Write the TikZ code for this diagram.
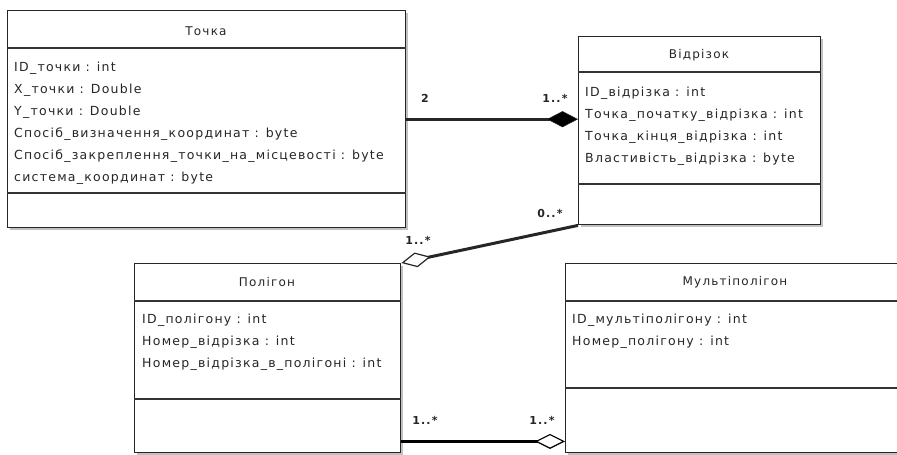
\documentclass[tikz,border=0pt]{standalone}
\usepackage{fontspec}
\setmainfont[LetterSpace=10]{DejaVu Sans}
\usetikzlibrary{arrows.meta,shadows,calc}

\begin{document}
\begin{tikzpicture}[x=1pt,y=-1pt,
  classbox/.style={draw=black!85, line width=1.4pt, fill=white, inner sep=0pt,
    anchor=north west,
    drop shadow={shadow xshift=2pt, shadow yshift=-2pt, fill=black!40, opacity=0.6}},
  sep/.style={draw=black!80, line width=1.4pt},
  classtitle/.style={font=\fontsize{12}{14}\selectfont, text=black!85, inner sep=0pt},
  attr/.style={font=\fontsize{12.5}{14}\selectfont, text=black!85, inner sep=0pt, anchor=base west},
  mult/.style={font=\bfseries\fontsize{11}{12}\selectfont, text=black!85, inner sep=0pt},
  assoc/.style={draw=black!85, line width=3pt},
  filledtip/.style={-{Diamond[length=31pt,width=16pt,fill=black,line width=0.5pt]}},
  opentip/.style={-{Diamond[length=30pt,width=15pt,fill=white,line width=1.2pt]}}
]
\clip (0,0) rectangle (897,455);
\fill[white] (0,0) rectangle (897,455);

% Class Точка
\node[classbox, minimum width=398pt, minimum height=217pt] (tochka) at (7,10) {};
\draw[sep] (tochka.west |- 0,48) -- (tochka.east |- 0,48);
\draw[sep] (tochka.west |- 0,193) -- (tochka.east |- 0,193);
\node[classtitle] (tochka-t) at (206,31) {Точка};
\node[attr] (tochka-a1) at (14,71) {ID\_точки : int};
\node[attr] (tochka-a2) at (14,93) {X\_точки : Double};
\node[attr] (tochka-a3) at (14,115) {Y\_точки : Double};
\node[attr] (tochka-a4) at (14,137) {Спосіб\_визначення\_координат : byte};
\node[attr] (tochka-a5) at (14,159) {Спосіб\_закреплення\_точки\_на\_місцевості : byte};
\node[attr] (tochka-a6) at (14,181) {система\_координат : byte};

% Class Відрізок
\node[classbox, minimum width=242pt, minimum height=188pt] (vdrz) at (578,36) {};
\draw[sep] (vdrz.west |- 0,72) -- (vdrz.east |- 0,72);
\draw[sep] (vdrz.west |- 0,184) -- (vdrz.east |- 0,184);
\node[classtitle] (vdrz-t) at (699,55) {Відрізок};
\node[attr] (vdrz-a1) at (585,96) {ID\_відрізка : int};
\node[attr] (vdrz-a2) at (585,118) {Точка\_початку\_відрізка : int};
\node[attr] (vdrz-a3) at (585,140) {Точка\_кінця\_відрізка : int};
\node[attr] (vdrz-a4) at (585,162) {Властивість\_відрізка : byte};

% Class Полігон
\node[classbox, minimum width=266pt, minimum height=189pt] (poly) at (134,263) {};
\draw[sep] (poly.west |- 0,301) -- (poly.east |- 0,301);
\draw[sep] (poly.west |- 0,399) -- (poly.east |- 0,399);
\node[classtitle] (poly-t) at (267,282) {Полігон};
\node[attr] (poly-a1) at (142,323) {ID\_полігону : int};
\node[attr] (poly-a2) at (142,345) {Номер\_відрізка : int};
\node[attr] (poly-a3) at (142,367) {Номер\_відрізка\_в\_полігоні : int};

% Class Мультіполігон
\node[classbox, minimum width=340pt, minimum height=189pt] (mpoly) at (565,263) {};
\draw[sep] (mpoly.west |- 0,301) -- (mpoly.east |- 0,301);
\draw[sep] (mpoly.west |- 0,388) -- (mpoly.east |- 0,388);
\node[classtitle] (mpoly-t) at (735,282) {Мультіполігон};
\node[attr] (mpoly-a1) at (572,323) {ID\_мультіполігону : int};
\node[attr] (mpoly-a2) at (572,345) {Номер\_полігону : int};

% Associations
\draw[assoc, filledtip] (tochka.east) -- (tochka.east -| vdrz.west);
\draw[assoc, opentip] (vdrz.south west) -- (poly.north east);
\coordinate (p3) at ($(poly.south east)+(0,-12)$);
\draw[assoc, draw=black, line width=3.5pt, opentip] (p3) -- (p3 -| mpoly.west);

% Multiplicities
\node[mult] (m1) at (425,98) {2};
\node[mult] (m2) at (555,98) {1..*};
\node[mult] (m3) at (550,213) {0..*};
\node[mult] (m4) at (418,240) {1..*};
\node[mult] (m5) at (425,420) {1..*};
\node[mult] (m6) at (542,420) {1..*};
\end{tikzpicture}
\end{document}
